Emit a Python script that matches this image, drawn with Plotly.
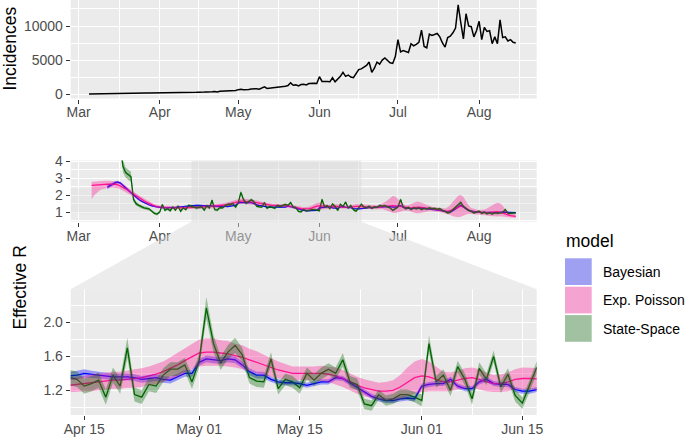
import plotly.graph_objects as go
import pandas as pd

W, H = 685, 437

# ---------------- data ----------------
inc_start = "2020-03-05"
incidences = [
    1, 2, 3, 4, 6, 8, 10, 14, 18, 24, 30, 38, 45, 55, 65, 75, 85, 100, 110, 120, 125, 135, 140, 150, 150, 160, 170,
    170, 160, 180, 190, 175, 200, 210, 190, 220, 230, 210, 240, 250, 230, 260, 280, 250, 300, 320, 290, 350, 380, 300, 400, 420, 380, 450, 480, 420, 520,
    650, 700, 620, 600, 680, 750, 800, 780, 720, 850, 1050, 820, 870, 900, 950, 1000, 980, 1050, 1150, 1250, 1650, 1300, 1350, 1200, 1400, 1450, 1350, 1550, 1600, 1600, 1550,
    2550, 1860, 1900, 1850, 1800, 2400, 1800, 2200, 2600, 3200, 2600, 2800, 2500, 2400, 3000, 3600, 3700, 3900, 4200, 4700, 3200, 3800, 4700, 4400, 5000, 5300, 5000, 4600, 4500, 5500,
    8000, 6200, 6400, 6300, 6100, 7400, 7100, 7300, 7600, 9400, 7000, 6800, 8800, 8600, 8700, 8900, 8400, 7500, 6900, 8300, 8500, 9000, 9700, 13100, 10500, 8100, 11800, 10000, 9900, 8400, 9300,
    10700, 8000, 9800, 9200, 9300, 7400, 8400, 7400, 10900, 8300, 8400, 7800, 8000, 7600, 7500,
]

models = ["Bayesian", "Exp. Poisson", "State-Space"]

# Exp. Poisson (from 2020-03-06)
pois_start = "2020-03-06"
pois_mean = [
    2.58, 2.60, 2.61, 2.62, 2.63, 2.64, 2.65, 2.66, 2.66, 2.65, 2.62, 2.55, 2.47, 2.38, 2.28, 2.17, 2.06, 1.95, 1.85, 1.76, 1.67, 1.58, 1.50, 1.43, 1.37, 1.33,
    1.30, 1.28, 1.27, 1.26, 1.25, 1.25, 1.25, 1.25, 1.25, 1.25, 1.25, 1.25,
    1.26, 1.27, 1.28, 1.29, 1.30, 1.31, 1.32, 1.32, 1.33, 1.34, 1.35, 1.37, 1.39, 1.42, 1.46, 1.50, 1.55, 1.60,
    1.64, 1.65, 1.65, 1.64, 1.63, 1.61, 1.59, 1.56, 1.53, 1.50, 1.47, 1.44, 1.42, 1.40, 1.40, 1.40, 1.40, 1.40, 1.39, 1.37, 1.34, 1.30, 1.26, 1.23, 1.21, 1.19, 1.19, 1.20, 1.24, 1.30, 1.35,
    1.37, 1.36, 1.33, 1.30, 1.30, 1.32, 1.34, 1.35, 1.33, 1.30, 1.28, 1.28, 1.30, 1.33, 1.34, 1.34, 1.34,
    1.33, 1.32, 1.30, 1.29, 1.28, 1.28, 1.30, 1.33, 1.35, 1.37, 1.38, 1.38, 1.37,
    1.35, 1.32, 1.28, 1.25, 1.24, 1.25, 1.28, 1.30, 1.30, 1.28, 1.25, 1.22, 1.20, 1.18, 1.16, 1.14, 1.12, 1.08, 1.05, 1.05, 1.08, 1.15, 1.22, 1.30, 1.35, 1.30, 1.20, 1.10, 1.05, 1.02, 1.00,
    0.98, 0.96, 0.95, 0.96, 0.98, 1.00, 1.02, 1.02, 1.00, 0.96, 0.90, 0.84, 0.79, 0.76, 0.75,
]
pois_lo = [
    1.78, 2.00, 2.15, 2.28, 2.36, 2.40, 2.44, 2.46, 2.46, 2.45, 2.42, 2.36, 2.28, 2.20, 2.10, 2.00, 1.90, 1.80, 1.71, 1.62, 1.54, 1.46, 1.39, 1.33, 1.28, 1.24,
    1.21, 1.20, 1.19, 1.18, 1.17, 1.17, 1.17, 1.17, 1.17, 1.17, 1.17, 1.17,
    1.17, 1.18, 1.19, 1.19, 1.20, 1.21, 1.22, 1.22, 1.23, 1.23, 1.24, 1.26, 1.27, 1.30, 1.33, 1.36, 1.40, 1.45,
    1.48, 1.49, 1.49, 1.49, 1.48, 1.47, 1.45, 1.43, 1.40, 1.38, 1.36, 1.34, 1.33, 1.32, 1.32, 1.32, 1.32, 1.31, 1.30, 1.27, 1.24, 1.20, 1.16, 1.13, 1.11, 1.09, 1.08, 1.08, 1.10, 1.13, 1.16,
    1.18, 1.19, 1.19, 1.19, 1.19, 1.21, 1.22, 1.23, 1.21, 1.19, 1.18, 1.18, 1.19, 1.21, 1.21, 1.21, 1.21,
    1.20, 1.20, 1.18, 1.17, 1.16, 1.16, 1.17, 1.18, 1.15, 1.10, 1.02, 0.96, 0.95,
    0.98, 1.02, 1.08, 1.10, 1.08, 1.02, 0.96, 0.93, 0.93, 0.95, 0.98, 1.02, 1.05, 1.05, 1.04, 1.02, 1.00, 0.96, 0.92, 0.88, 0.82, 0.76, 0.72, 0.70, 0.72, 0.78, 0.85, 0.90, 0.90, 0.88, 0.87,
    0.86, 0.84, 0.82, 0.80, 0.77, 0.75, 0.74, 0.74, 0.75, 0.76, 0.75, 0.72, 0.68, 0.66, 0.65,
]
pois_hi = [
    2.80, 2.82, 2.83, 2.84, 2.85, 2.86, 2.86, 2.86, 2.85, 2.83, 2.80, 2.74, 2.66, 2.56, 2.46, 2.35, 2.23, 2.11, 2.00, 1.90, 1.80, 1.71, 1.62, 1.54, 1.47, 1.42,
    1.39, 1.37, 1.36, 1.35, 1.34, 1.34, 1.34, 1.34, 1.34, 1.34, 1.34, 1.35,
    1.35, 1.36, 1.37, 1.39, 1.40, 1.41, 1.42, 1.42, 1.43, 1.45, 1.46, 1.48, 1.51, 1.54, 1.59, 1.64, 1.70, 1.75,
    1.80, 1.81, 1.81, 1.79, 1.78, 1.75, 1.73, 1.69, 1.66, 1.62, 1.58, 1.54, 1.51, 1.48, 1.48, 1.48, 1.48, 1.49, 1.48, 1.47, 1.44, 1.40, 1.36, 1.33, 1.31, 1.29, 1.30, 1.32, 1.38, 1.47, 1.54,
    1.57, 1.54, 1.48, 1.42, 1.41, 1.43, 1.46, 1.47, 1.45, 1.41, 1.38, 1.39, 1.41, 1.45, 1.47, 1.47, 1.47,
    1.46, 1.45, 1.43, 1.42, 1.41, 1.41, 1.44, 1.50, 1.58, 1.70, 1.85, 1.95, 1.93,
    1.80, 1.62, 1.48, 1.40, 1.40, 1.48, 1.58, 1.62, 1.62, 1.58, 1.50, 1.42, 1.35, 1.31, 1.29, 1.27, 1.25, 1.22, 1.22, 1.28, 1.42, 1.62, 1.82, 1.97, 2.02, 1.90, 1.65, 1.40, 1.25, 1.18, 1.15,
    1.13, 1.12, 1.15, 1.22, 1.32, 1.42, 1.50, 1.55, 1.52, 1.38, 1.15, 1.00, 0.92, 0.88, 0.87,
]

# Bayesian (from 2020-03-12)
bayes_start = "2020-03-12"
bayes_mean = [
    2.48, 2.55, 2.65, 2.75, 2.78, 2.72, 2.60, 2.45, 2.30, 2.15, 2.00, 1.87, 1.75, 1.65, 1.56, 1.48, 1.42, 1.37, 1.33, 1.30,
    1.28, 1.27, 1.26, 1.26, 1.26, 1.27, 1.28, 1.30, 1.32, 1.33, 1.35, 1.36,
    1.37, 1.38, 1.40, 1.39, 1.38, 1.37, 1.36, 1.36, 1.36, 1.35, 1.33, 1.34, 1.35, 1.33, 1.32, 1.36, 1.40, 1.40,
    1.53, 1.57, 1.56, 1.55, 1.57, 1.56, 1.50, 1.42, 1.38, 1.38, 1.33, 1.30, 1.29, 1.29, 1.28, 1.26, 1.28, 1.30, 1.30, 1.35, 1.34, 1.29, 1.23, 1.18, 1.13, 1.10, 1.08, 1.08, 1.10, 1.11, 1.10,
    1.25, 1.27, 1.28, 1.28, 1.33, 1.25, 1.22, 1.22, 1.30, 1.33, 1.28, 1.27, 1.27, 1.21, 1.19, 1.19, 1.21,
    1.24, 1.26, 1.27, 1.27, 1.28, 1.30, 1.32, 1.33, 1.34, 1.35, 1.33, 1.30, 1.30,
    1.35, 1.38, 1.30, 1.25, 1.22, 1.20, 1.22, 1.24, 1.22, 1.25, 1.22, 1.20, 1.20, 1.18, 1.17, 1.15, 1.13, 1.08, 1.03, 1.00, 1.00, 1.08, 1.20, 1.33, 1.40, 1.30, 1.18, 1.10, 1.05, 1.02, 1.00,
    1.00, 0.98, 0.97, 0.97, 0.98, 0.98, 0.98, 0.97, 0.98, 1.00, 1.00, 0.98, 0.97, 0.97, 0.97,
]
bayes_lo = [
    2.36, 2.44, 2.55, 2.66, 2.70, 2.64, 2.53, 2.38, 2.24, 2.09, 1.95, 1.82, 1.70, 1.61, 1.52, 1.44, 1.38, 1.33, 1.29, 1.26,
    1.24, 1.23, 1.22, 1.22, 1.22, 1.23, 1.24, 1.26, 1.28, 1.29, 1.31, 1.32,
    1.32, 1.33, 1.35, 1.35, 1.34, 1.33, 1.32, 1.32, 1.32, 1.31, 1.29, 1.30, 1.31, 1.29, 1.28, 1.32, 1.36, 1.36,
    1.49, 1.53, 1.52, 1.51, 1.53, 1.52, 1.46, 1.38, 1.34, 1.34, 1.30, 1.27, 1.26, 1.26, 1.25, 1.23, 1.25, 1.27, 1.27, 1.32, 1.31, 1.26, 1.20, 1.15, 1.10, 1.07, 1.05, 1.05, 1.07, 1.08, 1.07,
    1.22, 1.24, 1.25, 1.25, 1.30, 1.22, 1.19, 1.19, 1.27, 1.30, 1.25, 1.24, 1.24, 1.18, 1.16, 1.16, 1.18,
    1.21, 1.23, 1.24, 1.24, 1.25, 1.27, 1.29, 1.30, 1.31, 1.32, 1.30, 1.27, 1.27,
    1.32, 1.35, 1.27, 1.22, 1.19, 1.17, 1.19, 1.21, 1.19, 1.22, 1.19, 1.17, 1.17, 1.15, 1.14, 1.12, 1.10, 1.05, 1.00, 0.97, 0.97, 1.05, 1.17, 1.30, 1.37, 1.27, 1.15, 1.07, 1.02, 0.99, 0.97,
    0.97, 0.95, 0.94, 0.94, 0.95, 0.95, 0.95, 0.94, 0.95, 0.97, 0.97, 0.95, 0.94, 0.94, 0.94,
]
bayes_hi = [
    2.60, 2.66, 2.75, 2.84, 2.86, 2.80, 2.67, 2.52, 2.36, 2.21, 2.05, 1.92, 1.80, 1.69, 1.60, 1.52, 1.46, 1.41, 1.37, 1.34,
    1.32, 1.31, 1.30, 1.30, 1.30, 1.31, 1.32, 1.34, 1.36, 1.37, 1.39, 1.40,
    1.42, 1.43, 1.45, 1.43, 1.42, 1.41, 1.40, 1.40, 1.40, 1.39, 1.37, 1.38, 1.39, 1.37, 1.36, 1.40, 1.44, 1.44,
    1.57, 1.61, 1.60, 1.59, 1.61, 1.60, 1.54, 1.46, 1.42, 1.42, 1.36, 1.33, 1.32, 1.32, 1.31, 1.29, 1.31, 1.33, 1.33, 1.38, 1.37, 1.32, 1.26, 1.21, 1.16, 1.13, 1.11, 1.11, 1.13, 1.14, 1.13,
    1.28, 1.30, 1.31, 1.31, 1.36, 1.28, 1.25, 1.25, 1.33, 1.36, 1.31, 1.30, 1.30, 1.24, 1.22, 1.22, 1.24,
    1.27, 1.29, 1.30, 1.30, 1.31, 1.33, 1.35, 1.36, 1.37, 1.38, 1.36, 1.33, 1.33,
    1.38, 1.41, 1.33, 1.28, 1.25, 1.23, 1.25, 1.27, 1.25, 1.28, 1.25, 1.23, 1.23, 1.21, 1.20, 1.18, 1.16, 1.11, 1.06, 1.03, 1.03, 1.11, 1.23, 1.36, 1.43, 1.33, 1.21, 1.13, 1.08, 1.05, 1.03,
    1.03, 1.01, 1.00, 1.00, 1.01, 1.01, 1.01, 1.00, 1.01, 1.03, 1.03, 1.01, 1.00, 1.00, 1.00,
]

# State-Space (from 2020-03-17)
ss_start = "2020-03-17"
ss_mean = [
    4.80, 3.70, 3.35, 3.20, 3.10, 1.75, 1.50, 1.40, 1.32, 1.25, 1.22, 1.18, 1.05, 0.92, 0.88,
    1.00, 1.45, 1.10, 1.20, 1.08, 1.30, 1.12, 1.35, 1.05, 1.25, 1.15, 1.40,
    1.35, 1.33, 1.25, 1.28, 1.32, 1.12, 1.38, 1.25, 1.70, 1.15, 1.12, 1.27, 1.25, 1.38, 1.45, 1.45, 1.50, 1.30,
    1.55, 2.17, 1.75, 1.52, 1.65, 1.73, 1.62, 1.35, 1.31, 1.30, 1.57, 1.22, 1.33, 1.30, 1.23, 1.40, 1.32, 1.40, 1.45, 1.40, 1.56, 1.30, 1.27, 1.04, 1.02, 1.15, 1.08, 1.10, 1.15, 1.15, 1.12,
    1.08, 1.75, 1.30, 1.38, 1.20, 1.48, 1.33, 1.10, 1.46, 1.33, 1.60, 1.24, 1.39, 1.14, 1.05, 1.25, 1.47,
    1.30, 1.25, 1.35, 1.22, 1.30, 1.28, 1.40, 1.35, 1.38, 1.30, 1.25, 1.10, 1.20,
    1.30, 1.75, 1.30, 1.20, 1.28, 1.15, 1.25, 1.20, 1.25, 1.15, 1.22, 1.18, 1.25, 1.20, 1.22, 1.18, 1.20, 1.10, 1.05, 0.95, 1.00, 1.15, 1.30, 1.40, 1.57, 1.35, 1.20, 1.10, 1.05, 0.95, 1.00,
    1.05, 0.92, 1.00, 0.90, 0.95, 0.88, 0.95, 0.92, 0.95, 0.98, 1.15, 0.92, 0.93, 0.92, 0.95,
]
ss_lo = [
    4.40, 3.35, 3.05, 2.90, 2.80, 1.60, 1.38, 1.30, 1.22, 1.16, 1.13, 1.10, 0.97, 0.84, 0.80,
    0.93, 1.38, 1.03, 1.13, 1.01, 1.23, 1.05, 1.28, 0.98, 1.18, 1.08, 1.33,
    1.26, 1.24, 1.16, 1.19, 1.23, 1.03, 1.29, 1.16, 1.58, 1.07, 1.04, 1.19, 1.17, 1.30, 1.37, 1.37, 1.42, 1.22,
    1.47, 2.04, 1.65, 1.44, 1.57, 1.64, 1.54, 1.28, 1.24, 1.23, 1.49, 1.15, 1.26, 1.23, 1.16, 1.33, 1.25, 1.33, 1.38, 1.33, 1.48, 1.23, 1.20, 0.98, 0.96, 1.09, 1.02, 1.04, 1.09, 1.09, 1.06,
    1.01, 1.65, 1.23, 1.31, 1.13, 1.41, 1.26, 1.03, 1.39, 1.26, 1.53, 1.17, 1.32, 1.07, 0.98, 1.18, 1.40,
    1.23, 1.18, 1.28, 1.15, 1.23, 1.21, 1.33, 1.28, 1.31, 1.23, 1.18, 1.03, 1.13,
    1.23, 1.65, 1.23, 1.13, 1.21, 1.08, 1.18, 1.13, 1.18, 1.08, 1.15, 1.11, 1.18, 1.13, 1.15, 1.11, 1.13, 1.03, 0.98, 0.88, 0.93, 1.08, 1.23, 1.33, 1.47, 1.28, 1.13, 1.03, 0.98, 0.88, 0.93,
    0.98, 0.85, 0.93, 0.83, 0.88, 0.81, 0.88, 0.85, 0.88, 0.91, 1.08, 0.85, 0.86, 0.85, 0.88,
]
ss_hi = [
    5.20, 4.05, 3.65, 3.50, 3.40, 1.90, 1.62, 1.50, 1.42, 1.34, 1.31, 1.26, 1.13, 1.00, 0.96,
    1.07, 1.52, 1.17, 1.27, 1.15, 1.37, 1.19, 1.42, 1.12, 1.32, 1.22, 1.47,
    1.44, 1.42, 1.34, 1.37, 1.41, 1.21, 1.47, 1.34, 1.82, 1.23, 1.20, 1.35, 1.33, 1.46, 1.53, 1.53, 1.58, 1.38,
    1.63, 2.30, 1.85, 1.60, 1.73, 1.82, 1.70, 1.42, 1.38, 1.37, 1.65, 1.29, 1.40, 1.37, 1.30, 1.47, 1.39, 1.47, 1.52, 1.47, 1.64, 1.37, 1.34, 1.10, 1.08, 1.21, 1.14, 1.16, 1.21, 1.21, 1.18,
    1.15, 1.85, 1.37, 1.45, 1.27, 1.55, 1.40, 1.17, 1.53, 1.40, 1.67, 1.31, 1.46, 1.21, 1.12, 1.32, 1.54,
    1.37, 1.32, 1.42, 1.29, 1.37, 1.35, 1.47, 1.42, 1.45, 1.37, 1.32, 1.17, 1.27,
    1.37, 1.85, 1.37, 1.27, 1.35, 1.22, 1.32, 1.27, 1.32, 1.22, 1.29, 1.25, 1.32, 1.27, 1.29, 1.25, 1.27, 1.17, 1.12, 1.02, 1.07, 1.22, 1.37, 1.47, 1.67, 1.42, 1.27, 1.17, 1.12, 1.02, 1.07,
    1.12, 0.99, 1.07, 0.97, 1.02, 0.95, 1.02, 0.99, 1.02, 1.05, 1.22, 0.99, 1.00, 0.99, 1.02,
]

month_ticks = ["2020-03-01", "2020-04-01", "2020-05-01", "2020-06-01", "2020-07-01", "2020-08-01"]
month_labels = ["Mar", "Apr", "May", "Jun", "Jul", "Aug"]
zoom_ticks = ["2020-04-15", "2020-05-01", "2020-05-15", "2020-06-01", "2020-06-15"]
zoom_labels = ["Apr 15", "May 01", "May 15", "Jun 01", "Jun 15"]

# ---------------- styling ----------------
FONT = "Liberation Sans, Arial, Helvetica, sans-serif"
PANEL = "#EBEBEB"
line_col = {"Bayesian": "#0000FF", "Exp. Poisson": "#FF1493", "State-Space": "#006400"}
fill_col = {"Bayesian": "rgba(0,0,255,0.35)", "Exp. Poisson": "rgba(255,20,147,0.35)",
            "State-Space": "rgba(0,100,0,0.35)"}
key_col = {"Bayesian": "#A0A0F3", "Exp. Poisson": "#F5A4D1", "State-Space": "#A0C2A0"}

series = {
    "Bayesian": (bayes_start, bayes_mean, bayes_lo, bayes_hi),
    "Exp. Poisson": (pois_start, pois_mean, pois_lo, pois_hi),
    "State-Space": (ss_start, ss_mean, ss_lo, ss_hi),
}

full_range = ["2020-02-27", "2020-08-23"]
zoom_range = ["2020-04-13 02:40", "2020-06-17"]
mid_yrange = [0.43, 4.06]
zoom_yrange = [0.91, 2.39]
month_minor = ["2020-03-16 12:00", "2020-04-16", "2020-05-16 12:00", "2020-06-16",
               "2020-07-16 12:00", "2020-08-16 12:00"]
zoom_minor = ["2020-04-23", "2020-05-08", "2020-05-23 12:00", "2020-06-08"]

X0, X1 = 70.7, 536.7
def px(x):
    return x / W
def py(y):
    return 1 - y / H

ZOOMFILL = "rgba(217,217,217,0.5)"

fig = go.Figure()

inc_dates = pd.date_range(inc_start, periods=len(incidences), freq="D")
fig.add_trace(go.Scatter(x=inc_dates, y=incidences, mode="lines",
                         line=dict(color="black", width=1.5), xaxis="x", yaxis="y",
                         showlegend=False, hoverinfo="skip"))

# zoom-area indicators on the overview panel (above grid, below data)
fig.add_trace(go.Scatter(
    x=[zoom_range[0], zoom_range[1], zoom_range[1], zoom_range[0]],
    y=[mid_yrange[0], mid_yrange[0], mid_yrange[1], mid_yrange[1]],
    fill="toself", fillcolor=ZOOMFILL, mode="lines", line=dict(width=0),
    xaxis="x2", yaxis="y2", showlegend=False, hoverinfo="skip"))
fig.add_trace(go.Scatter(
    x=[full_range[0], full_range[1], full_range[1], full_range[0]],
    y=[zoom_yrange[0], zoom_yrange[0], zoom_yrange[1], zoom_yrange[1]],
    fill="toself", fillcolor="rgba(217,217,217,0.35)", mode="lines", line=dict(width=0),
    xaxis="x2", yaxis="y2", showlegend=False, hoverinfo="skip"))

for xa, ya in (("x2", "y2"), ("x3", "y3")):
    for m in models:
        start, mean, lo, hi = series[m]
        d = pd.date_range(start, periods=len(mean), freq="D")
        fig.add_trace(go.Scatter(x=d, y=mean, mode="lines", line=dict(color=line_col[m], width=1.3),
                                 xaxis=xa, yaxis=ya, showlegend=False, hoverinfo="skip"))
    for m in models:
        start, mean, lo, hi = series[m]
        dl = list(pd.date_range(start, periods=len(lo), freq="D"))
        dh = list(pd.date_range(start, periods=len(hi), freq="D"))
        fig.add_trace(go.Scatter(x=dh + dl[::-1], y=list(hi) + list(lo)[::-1], mode="lines",
                                 fill="toself", fillcolor=fill_col[m], line=dict(width=0),
                                 xaxis=xa, yaxis=ya, showlegend=False, hoverinfo="skip"))

tickfont = dict(family=FONT, size=14, color="#4D4D4D")

def xaxis_common(anchor, rng, tickvals, ticktext, minor_vals):
    return dict(
        domain=[px(X0), px(X1)], anchor=anchor, type="date", range=rng, automargin=False,
        tickmode="array", tickvals=tickvals, ticktext=ticktext, ticklabelstandoff=-3,
        showgrid=True, gridcolor="white", gridwidth=1.2, zeroline=False, showline=False,
        ticks="outside", ticklen=4, tickwidth=1.1, tickcolor="#333333", tickfont=tickfont,
        minor=dict(tickmode="array", tickvals=minor_vals, showgrid=True, gridcolor="white",
                   gridwidth=0.6, ticks=""),
    )

def yaxis_common(domain, anchor, rng, tickvals, ticktext, minor_vals):
    return dict(
        domain=domain, anchor=anchor, range=rng, automargin=False,
        tickmode="array", tickvals=tickvals, ticktext=ticktext,
        showgrid=True, gridcolor="white", gridwidth=1.2, zeroline=False, showline=False,
        ticks="outside", ticklen=4, tickwidth=1.1, tickcolor="#333333", tickfont=tickfont,
        minor=dict(tickmode="array", tickvals=minor_vals, showgrid=True, gridcolor="white",
                   gridwidth=0.6, ticks=""),
    )

fig.update_layout(
    width=W, height=H, margin=dict(l=0, r=0, t=0, b=0, pad=0, autoexpand=False),
    paper_bgcolor="white", plot_bgcolor=PANEL, showlegend=False,
    font=dict(family=FONT, size=14, color="black"),
    xaxis=xaxis_common("y", full_range, month_ticks, month_labels, month_minor),
    yaxis=yaxis_common([py(98.5), py(0)], "x", [-650, 13820], [0, 5000, 10000],
                       ["0", "5000", "10000"], [2500, 7500, 12500]),
    xaxis2=xaxis_common("y2", full_range, month_ticks, month_labels, month_minor),
    yaxis2=yaxis_common([py(221.7), py(160.5)], "x2", mid_yrange, [1, 2, 3, 4],
                        ["1", "2", "3", "4"], [0.5, 1.5, 2.5, 3.5]),
    xaxis3=xaxis_common("y3", zoom_range, zoom_ticks, zoom_labels, zoom_minor),
    yaxis3=yaxis_common([py(415), py(289.3)], "x3", zoom_yrange, [1.2, 1.6, 2.0],
                        ["1.2", "1.6", "2.0"], [1.0, 1.4, 1.8, 2.2]),
)

shapes = []
# trapezoid linking overview and zoom panel
tx0, tx1 = 191.3, 361.2
path = "M {a},{b} L {c},{b} L {d},{e} L {f},{e} Z".format(
    a=px(tx0), b=py(221.7), c=px(tx1), d=px(X1), e=py(289.3), f=px(X0))
shapes.append(dict(type="path", xref="paper", yref="paper", path=path,
                   fillcolor=ZOOMFILL, line=dict(width=0), layer="above"))

# legend keys
key_top = [258.3, 286.7, 315.1]
for m, kt in zip(models, key_top):
    shapes.append(dict(type="rect", xref="paper", yref="paper", x0=px(565), x1=px(591.7),
                       y0=py(kt + 26.7), y1=py(kt), fillcolor=key_col[m], line=dict(width=0),
                       layer="above"))
fig.update_layout(shapes=shapes)

annotations = [
    dict(text="Incidences", x=px(9.5), y=py(49), xref="paper", yref="paper", textangle=-90,
         showarrow=False, xanchor="center", yanchor="middle",
         font=dict(family=FONT, size=17.5, color="black")),
    dict(text="Effective R", x=px(19.5), y=py(288), xref="paper", yref="paper", textangle=-90,
         showarrow=False, xanchor="center", yanchor="middle",
         font=dict(family=FONT, size=17.5, color="black")),
    dict(text="model", x=px(564), y=py(240.7), xref="paper", yref="paper", showarrow=False,
         xanchor="left", yanchor="middle", font=dict(family=FONT, size=17.5, color="black")),
]
for m, kt in zip(models, key_top):
    annotations.append(dict(text=m, x=px(600.5), y=py(kt + 13.4), xref="paper", yref="paper",
                            showarrow=False, xanchor="left", yanchor="middle",
                            font=dict(family=FONT, size=14, color="black")))
fig.update_layout(annotations=annotations)

fig.write_html("out.html", config={"displayModeBar": False, "responsive": False},
               post_script="document.body.style.margin='0';")
